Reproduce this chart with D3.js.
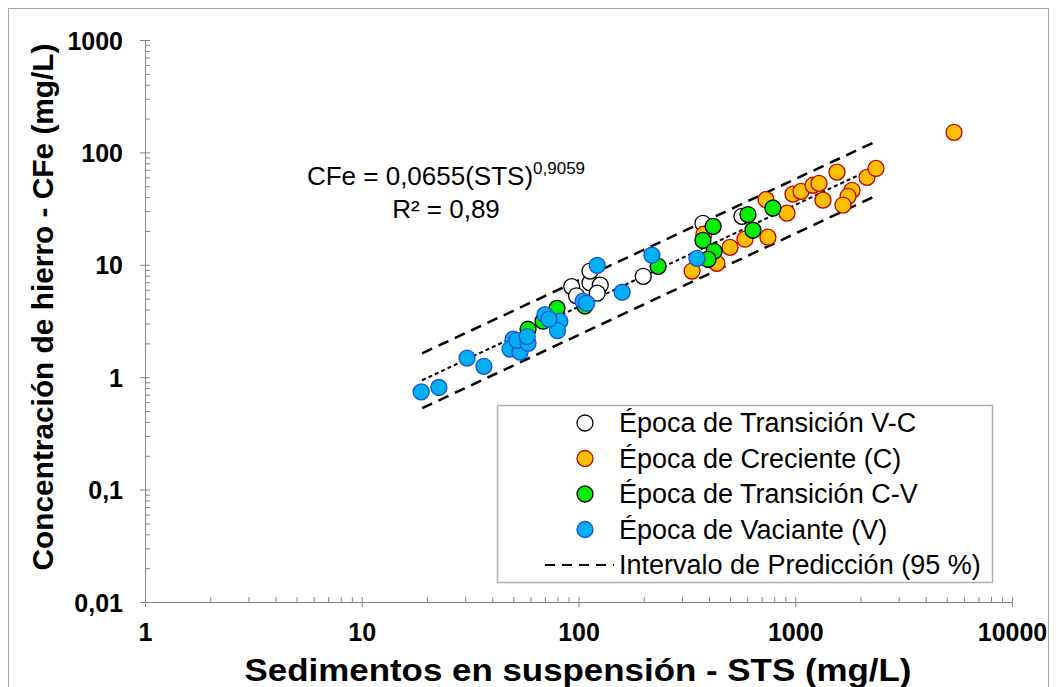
<!DOCTYPE html>
<html><head><meta charset="utf-8">
<script src="https://cdn.jsdelivr.net/npm/d3@7"></script>
<style>body{margin:0;background:#fff}svg{display:block;font-family:"Liberation Sans",Arial,sans-serif}</style>
</head><body>
<svg id="c" width="1056" height="687"></svg>
<script>
// ---- data ----
const seriesNames = ["Época de Transición V-C","Época de Creciente (C)","Época de Transición C-V","Época de Vaciante (V)"];
const vcX = [93, 113, 113, 126, 122, 98, 199, 375, 568];
const vcY = [6.4, 6.9, 8.8, 6.6, 5.6, 5.3, 7.9, 23.4, 27];
const cX = [334, 379, 435, 500, 586, 733, 916, 976, 1063, 1208, 1287, 1558, 1343, 1828, 1752, 1660, 2143, 2358, 748, 5400];
const cY = [8.8, 18.7, 10.3, 14.3, 16.9, 38, 28.8, 42.5, 45, 51, 53, 66.7, 37.6, 46, 40.7, 34, 60, 72, 17.6, 151];
const cvX = [58.5, 79.6, 68.6, 107, 233, 418, 375, 422, 396, 605, 638, 789];
const cvY = [2.67, 4.1, 3.15, 4.3, 9.7, 22, 16.5, 13.2, 11.2, 28, 20.3, 32];
const vX = [18.8, 22.7, 30.6, 36.6, 50, 48.3, 53.7, 52, 58.5, 58, 70, 82, 80, 73, 105, 109, 122, 159, 218, 352];
const vY = [0.74, 0.81, 1.48, 1.25, 2.18, 1.78, 1.67, 2.13, 2.0, 2.3, 3.6, 3.15, 2.6, 3.28, 4.75, 4.55, 9.9, 5.7, 12.2, 11.4];
const fitX = [19, 2350];
const fitY = [0.94, 74];
const upperY = [1.63, 125];
const lowerY = [0.53, 41];
const xTicks = [1, 10, 100, 1000, 10000];
const yTicks = [0.01, 0.1, 1, 10, 100, 1000];

// ---- drawing ----
const svg = d3.select("#c");
svg.append("rect").attr("x",8.5).attr("y",8.5).attr("width",1040).attr("height",700)
  .attr("fill","none").attr("stroke","#a6a6a6").attr("stroke-width",1);

const x = d3.scaleLog().domain([1,10000]).range([145,1012]);
const y = d3.scaleLog().domain([0.01,1000]).range([602,40]);
const fmt = v => String(v).replace(".", ",");

const minorX = [], minorY = [];
for (let d = 1; d < 10000; d *= 10) for (let k = 2; k <= 9; k++) minorX.push(d*k);
for (let d = 0.01; d < 999; d *= 10) for (let k = 2; k <= 9; k++) minorY.push(+(d*k).toPrecision(3));

const axisColor = "#868686";
const gxm = svg.append("g").attr("transform","translate(0,602)")
  .call(d3.axisBottom(x).tickValues(minorX).tickSize(-5).tickFormat(""));
const gym = svg.append("g").attr("transform","translate(145,0)")
  .call(d3.axisLeft(y).tickValues(minorY).tickSize(-5).tickFormat(""));
const gx = svg.append("g").attr("transform","translate(0,602)")
  .call(d3.axisBottom(x).tickValues(xTicks).tickSize(5).tickPadding(16).tickFormat(fmt));
const gy = svg.append("g").attr("transform","translate(145,0)")
  .call(d3.axisLeft(y).tickValues(yTicks).tickSize(5).tickPadding(17).tickFormat(fmt));
gx.selectAll(".tick line").attr("y1",-5).attr("y2",5);
gy.selectAll(".tick line").attr("x1",5).attr("x2",-5);
[gxm,gym,gx,gy].forEach(g=>{
  g.selectAll("path,line").attr("stroke",axisColor).attr("stroke-width",1);
  g.selectAll("text").attr("font-family","Liberation Sans, Arial, sans-serif")
   .attr("font-size",25).attr("font-weight","bold").attr("fill","#000");
});
gy.selectAll("text").attr("dy","0.36em");

// titles
svg.append("text").attr("x",578).attr("y",681).attr("text-anchor","middle")
  .attr("font-size",31).attr("font-weight","bold")
  .attr("textLength",667).attr("lengthAdjust","spacingAndGlyphs")
  .text("Sedimentos en suspensión - STS (mg/L)");
svg.append("text").attr("transform","translate(53,307) rotate(-90)").attr("text-anchor","middle")
  .attr("font-size",29).attr("font-weight","bold")
  .attr("textLength",527).attr("lengthAdjust","spacingAndGlyphs")
  .text("Concentración de hierro - CFe (mg/L)");

// lines
const line = d3.line().x(d=>x(d[0])).y(d=>y(d[1]));
svg.append("path").attr("d", line(fitX.map((v,i)=>[v,fitY[i]])))
  .attr("stroke","#000").attr("stroke-width",2).attr("stroke-dasharray","4,3").attr("fill","none");
[upperY, lowerY].forEach(arr=>{
  svg.append("path").attr("d", line(fitX.map((v,i)=>[v,arr[i]])))
    .attr("stroke","#000").attr("stroke-width",2.5).attr("stroke-dasharray","11,7").attr("fill","none");
});

// points
const styles = [
  {fill:"#ffffff", stroke:"#000000"},
  {fill:"#ffc000", stroke:"#c00000"},
  {fill:"#00ee00", stroke:"#000000"},
  {fill:"#00b0f0", stroke:"#1f4fd6"}
];
const sets = [[vcX,vcY],[cX,cY],[cvX,cvY],[vX,vY]];
sets.forEach((s,si)=>{
  svg.append("g").selectAll("circle").data(s[0].map((v,i)=>[v,s[1][i]])).join("circle")
    .attr("cx",d=>x(d[0])).attr("cy",d=>y(d[1])).attr("r",8)
    .attr("fill",styles[si].fill).attr("stroke",styles[si].stroke).attr("stroke-width",1.3);
});

// equation
const eq = svg.append("text").attr("x",446).attr("y",185).attr("text-anchor","middle").attr("font-size",26);
eq.append("tspan").text("CFe = 0,0655(STS)");
eq.append("tspan").attr("font-size",17).attr("dy",-11).text("0,9059");
svg.append("text").attr("x",446).attr("y",218).attr("text-anchor","middle").attr("font-size",26).text("R² = 0,89");

// legend
const lg = svg.append("g");
lg.append("rect").attr("x",497.5).attr("y",405.5).attr("width",495).attr("height",177)
  .attr("fill","#fff").attr("stroke","#b0b0b0").attr("stroke-width",1.5);
const rowY = [423, 458.5, 494, 529.5, 565];
seriesNames.forEach((n,i)=>{
  lg.append("circle").attr("cx",585).attr("cy",rowY[i]).attr("r",8)
    .attr("fill",styles[i].fill).attr("stroke",styles[i].stroke).attr("stroke-width",1.3);
  lg.append("text").attr("x",619).attr("y",rowY[i]).attr("dy","0.35em").attr("font-size",27).text(n);
});
lg.append("line").attr("x1",545).attr("x2",614).attr("y1",rowY[4]).attr("y2",rowY[4])
  .attr("stroke","#000").attr("stroke-width",2).attr("stroke-dasharray","10,7");
lg.append("text").attr("x",619).attr("y",rowY[4]).attr("dy","0.35em").attr("font-size",27).text("Intervalo de Predicción (95 %)");
</script>
</body></html>
